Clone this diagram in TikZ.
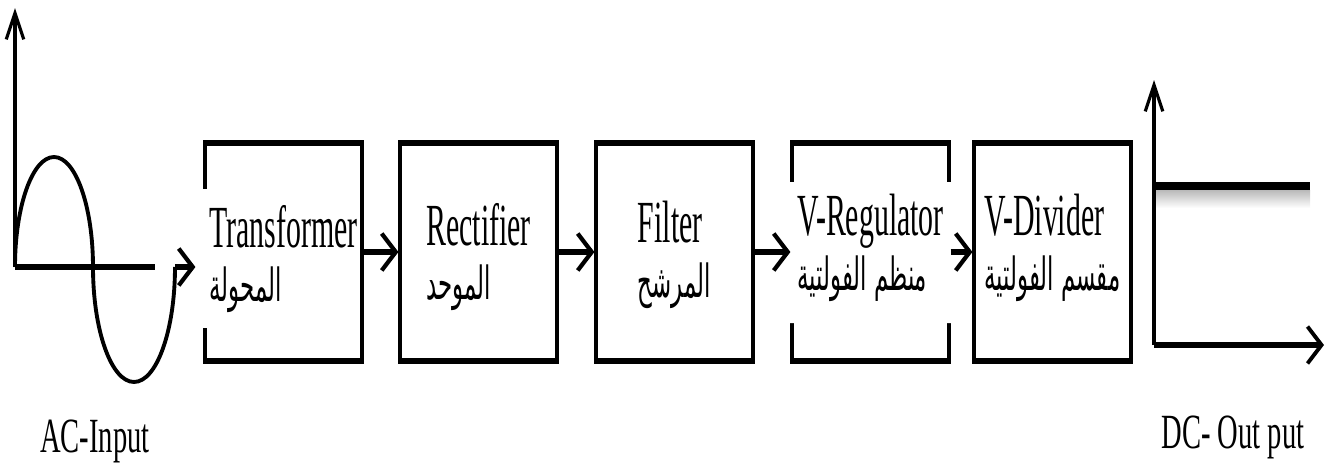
\documentclass[tikz,border=0pt]{standalone}
\usepackage{fontspec}
\usepackage{graphicx}
\setmainfont{Liberation Serif}
\newfontfamily\arabicfont[Script=Arabic]{DejaVu Sans}
\usetikzlibrary{arrows.meta}
\TeXXeTstate=1

\newcommand\narrow[2][0.5]{\scalebox{#1}[1]{#2}}
\newcommand\blocktext[2]{\narrow{#1}\\\narrow{\fontsize{13}{15.5}\arabicfont #2}}

\tikzset{
  block/.style={draw, line width=0.9pt, minimum width=15.7mm, minimum height=21.6mm, inner sep=0pt},
  blocktxt/.style={align=left, inner sep=0pt, font=\fontsize{17}{15.5}\selectfont},
  sig/.style={font=\fontsize{14}{16}\selectfont, inner sep=0pt, anchor=base},
  flow/.style={line width=1.5pt, -{Straight Barb[length=4pt, width=10.5pt, line width=1.2pt]}},
  haxis/.style={line width=1.5pt, -{Straight Barb[length=4pt, width=10.5pt, line width=1.1pt]}},
  vaxis/.style={line width=0.9pt, -{Straight Barb[length=7.5pt, width=5pt, line width=0.9pt]}},
  wave/.style={line width=1.1pt}
}

\begin{document}
\begin{tikzpicture}[x=0.1mm,y=-0.1mm]
\useasboundingbox (0,0) rectangle (1334,467);

% blocks
\node[block] (tr) at (283.5,252) {};
\node[block] (rc) at (478.5,252) {};
\node[block] (fl) at (674.5,252) {};
\node[block] (vr) at (870.5,252) {};
\node[block] (vd) at (1052.5,252) {};
\foreach \b in {tr,rc,fl,vr,vd}
  \draw[line width=1.6pt] (\b.north west) -- (\b.north east) (\b.south west) -- (\b.south east);
% broken frame sides
\fill[white] (201,189) rectangle (209,328);
\fill[white] (788,182) rectangle (796,323) (945,182) rectangle (953,323);

\node[blocktxt] (trt) at (283.5,259) {\blocktext{Transformer}{\beginR المحولة\endR}};
\node[blocktxt] (rct) at (478.5,257) {\blocktext{Rectifier}{\beginR الموحد\endR}};
\node[blocktxt] (flt) at (674.5,255) {\blocktext{Filter}{\beginR المرشح\endR}};
\node[blocktxt] (vrt) at (870.5,248) {\blocktext{V-Regulator}{\beginR منظم الفولتية\endR}};
\node[blocktxt] (vdt) at (1052.5,248) {\blocktext{V-Divider}{\beginR مقسم الفولتية\endR}};

\draw[flow] (tr) -- (rc);
\draw[flow] (rc) -- (fl);
\draw[flow] (fl) -- (vr);
\draw[flow] (vr) -- (vd);

% ac input
\coordinate (aco) at (15,267);
\coordinate (acend) at (175,267);
\draw[vaxis] (aco) -- (15,8);
\draw[line width=1.5pt] (aco) -- (155,267);
\draw[wave] (aco) arc[start angle=180, end angle=360, x radius=39, y radius=110]
  arc[start angle=180, end angle=0, x radius=41, y radius=115];
\draw[flow, shorten >=0.8mm] (acend) -- (acend -| tr.west);
\node[sig] (acin) at (95,452) {\narrow[0.58]{AC-Input}};

% dc output
\coordinate (dco) at (1154,345);
\draw[vaxis] (dco) -- (1154,80);
\draw[haxis] (dco) -- (1324,345);
\shade[top color=gray!55, bottom color=white] (1156,190) rectangle (1310,208);
\draw[line width=2pt] (1154,186) -- (1310,186);
\node[sig] (dcout) at (1233,448) {\narrow[0.58]{DC- Out put}};
\end{tikzpicture}
\end{document}
